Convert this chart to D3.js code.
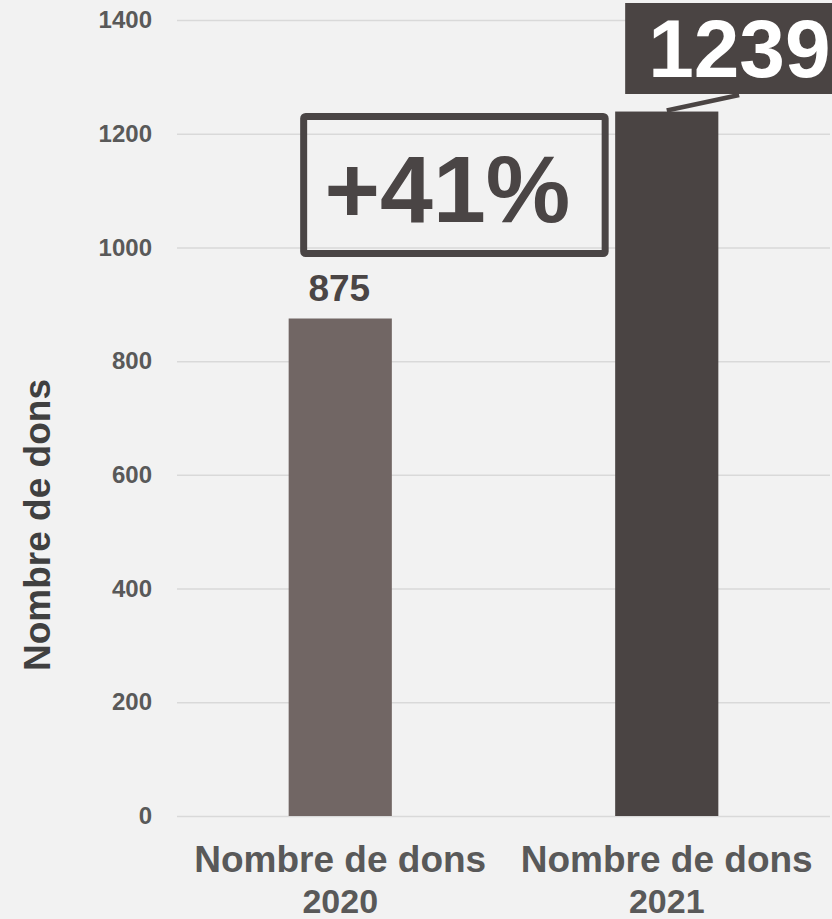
<!DOCTYPE html>
<html>
<head>
<meta charset="utf-8">
<script src="https://cdn.jsdelivr.net/npm/d3@7"></script>
<style>
  body { margin: 0; background: #f2f2f2; }
  svg { display: block; font-family: "Liberation Sans", Arial, sans-serif; }
</style>
</head>
<body>
<svg id="chart" width="832" height="919"></svg>
<script>
const categories = ["2020", "2021"];
const catLabels = [["Nombre de dons", "2020"], ["Nombre de dons", "2021"]];
const values = [875, 1239];
const barColors = ["#716664", "#4a4443"];
const yTicks = [0, 200, 400, 600, 800, 1000, 1200, 1400];
const growthLabel = "+41%";

const width = 832, height = 919;
const plotLeft = 177, plotRight = 830, plotTop = 20, plotBottom = 816;

const svg = d3.select("#chart");
svg.append("rect").attr("width", width).attr("height", height).attr("fill", "#f2f2f2");

const x = d3.scaleBand().domain(categories).range([plotLeft, plotRight])
    .paddingInner(0.684).paddingOuter(0.342);
const y = d3.scaleLinear().domain([0, 1400]).range([plotBottom, plotTop]);

// gridlines
svg.append("g")
    .attr("transform", "translate(" + plotLeft + ",0)")
    .call(d3.axisLeft(y).tickValues(yTicks).tickSize(-(plotRight - plotLeft)).tickFormat(""))
    .call(g => g.select(".domain").remove())
    .call(g => g.selectAll("line").attr("stroke", "#d9d9d9").attr("stroke-width", 1.5));

// tick labels
svg.append("g")
    .attr("transform", "translate(" + plotLeft + ",0)")
    .call(d3.axisLeft(y).tickValues(yTicks).tickSize(0).tickPadding(25).tickFormat(d3.format("d")))
    .call(g => g.select(".domain").remove())
    .call(g => g.selectAll("text")
        .attr("fill", "#595959").attr("font-size", "24px").attr("font-weight", "bold")
        .attr("font-family", "Liberation Sans, Arial, sans-serif"));

// bars
svg.selectAll(".bar").data(values).enter().append("rect")
    .attr("class", "bar")
    .attr("x", (d, i) => x(categories[i]))
    .attr("y", d => y(d))
    .attr("width", x.bandwidth())
    .attr("height", d => y(0) - y(d))
    .attr("fill", (d, i) => barColors[i]);

// x labels (two lines)
catLabels.forEach((lines, i) => {
    const cx = x(categories[i]) + x.bandwidth() / 2;
    const t = svg.append("text")
        .attr("text-anchor", "middle")
        .attr("fill", "#595959").attr("font-weight", "bold");
    lines.forEach((s, j) => {
        t.append("tspan").attr("x", cx).attr("y", 872 + j * 41)
            .attr("font-size", j == 0 ? "37px" : "34px").text(s);
    });
});

// y title
svg.append("text")
    .attr("transform", "translate(50,525)rotate(-90)")
    .attr("text-anchor", "middle")
    .attr("fill", "#404040").attr("font-size", "37px").attr("font-weight", "bold")
    .text("Nombre de dons");

// value label 2020
svg.append("text")
    .attr("x", x(categories[0]) + x.bandwidth() / 2 - 1)
    .attr("y", y(values[0]) - 18)
    .attr("text-anchor", "middle")
    .attr("fill", "#4a4545").attr("font-size", "37px").attr("font-weight", "bold")
    .text(values[0]);

// value callout 2021
const bx = x(categories[1]) + 10;
svg.append("line")
    .attr("x1", bx + 114).attr("y1", 95)
    .attr("x2", x(categories[1]) + x.bandwidth() / 2).attr("y2", y(values[1]) - 1)
    .attr("stroke", "#4a4443").attr("stroke-width", 4.5);
svg.append("rect")
    .attr("x", bx).attr("y", 3).attr("width", 220).attr("height", 91)
    .attr("fill", "#4a4443");
svg.append("text")
    .attr("x", bx + 23).attr("y", 77)
    .attr("fill", "#ffffff").attr("font-size", "82px").attr("font-weight", "bold")
    .text(values[1]);

// growth box
const gx1 = x(categories[0]) + 15, gx2 = x(categories[1]) - 10;
svg.append("rect")
    .attr("x", gx1).attr("y", 116.5)
    .attr("width", gx2 - gx1).attr("height", 137)
    .attr("rx", 2)
    .attr("fill", "none").attr("stroke", "#4a4545").attr("stroke-width", 7);
svg.append("text")
    .attr("x", (gx1 + gx2) / 2 - 7).attr("y", 222)
    .attr("text-anchor", "middle")
    .attr("fill", "#4a4545").attr("font-size", "95px").attr("font-weight", "bold")
    .text(growthLabel);
</script>
</body>
</html>
